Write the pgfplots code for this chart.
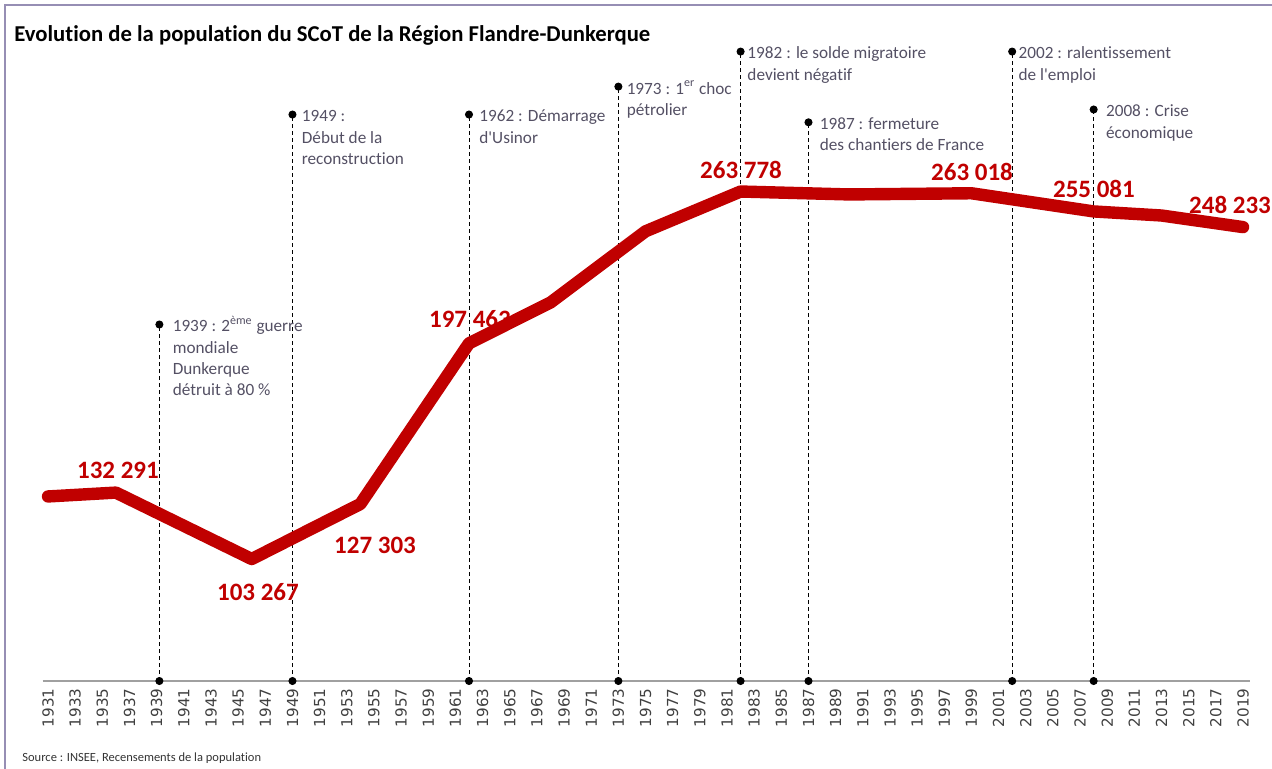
\documentclass[border=0pt]{standalone}
\usepackage{fontspec}
\setmainfont{Carlito}[Ligatures={NoCommon}]
\newfontfamily\tickfont{DejaVu Sans}
\usepackage{pgfplots}
\pgfplotsset{compat=1.18}
\definecolor{cred}{HTML}{C00000}
\definecolor{anntext}{RGB}{84,80,100}
\definecolor{framec}{RGB}{150,142,180}
\definecolor{axisgray}{RGB}{160,160,160}
\definecolor{ticktext}{RGB}{64,64,64}
\newcommand{\annf}{\fontsize{8.6}{10.6}\selectfont}
\newcommand{\ap}{\textquotesingle}
\tikzset{ann/.style={anchor=base west, inner sep=0pt, font=\annf, text=anntext},
  dlab/.style={anchor=center, inner sep=0pt, font=\bfseries\fontsize{12.5}{14}\selectfont, text=cred}}
\pgfplotsset{evline/.style={black, line width=0.5pt, dash pattern=on 2pt off 1.5pt, mark=*, mark size=1.75pt, mark options={solid, fill=black}}}
\begin{document}
\begin{tikzpicture}
\begin{scope}[x=0.5pt,y=-0.5pt]
\useasboundingbox (0,0) rectangle (1272,769);
\draw[framec, line width=0.75pt] (5,769) -- (5,5) -- (1272,5);
\node[anchor=west, inner sep=0pt, font=\bfseries\fontsize{11.35}{14}\selectfont] at (14,35) {Evolution de la population du SCoT de la Région Flandre-Dunkerque};
\node[anchor=west, inner sep=0pt, font=\fontsize{6.25}{7}\selectfont, text=black!80] at (22,758) {Source : INSEE, Recensements de la population};
\end{scope}
\begin{axis}[
  at={(21.3pt,-340.5pt)}, anchor=south west,
  width=603.6pt, height=332pt, scale only axis,
  xmin=1930.6, xmax=2019.5, ymin=50000, ymax=340000,
  clip=false,
  axis x line*=bottom, hide y axis,
  x axis line style={axisgray, line width=0.75pt},
  major tick length=0pt,
  xtick={1931,1933,...,2019},
  xticklabel style={rotate=90, anchor=east, inner sep=0pt, font=\tickfont\fontsize{7.6}{9}\selectfont, text=ticktext},
  xticklabel shift=3.5pt,
  /pgf/number format/1000 sep={},
  /pgf/number format/assume math mode=true,
]
\addplot[evline] coordinates {(1939.2,50000) (1939.2,205700)};
\addplot[evline] coordinates {(1949,50000) (1949,297400)};
\addplot[evline] coordinates {(1962,50000) (1962,297400)};
\addplot[evline] coordinates {(1973,50000) (1973,309600)};
\addplot[evline] coordinates {(1982,50000) (1982,324900)};
\addplot[evline] coordinates {(1987,50000) (1987,294000)};
\addplot[evline] coordinates {(2002,50000) (2002,324900)};
\addplot[evline] coordinates {(2008,50000) (2008,299600)};

\addplot[cred, line width=6.2pt, line cap=round, line join=round] coordinates {
(1931,130600) (1936,132291) (1946,103267) (1954,127303) (1962,197463) (1968,215300)
(1975,246400) (1982,263778) (1990,262500) (1999,263018) (2008,255081) (2013,253300) (2019,248233)};

\node[ann, xshift=6.5pt, yshift=-3.7pt] at (axis cs:1939.2,205700) {\begin{tabular}[t]{@{}l@{}}1939 : 2\textsuperscript{ème} guerre\\mondiale\\Dunkerque\\détruit à 80 \%\end{tabular}};
\node[ann, xshift=4.5pt, yshift=-3.7pt] at (axis cs:1949,297400) {\begin{tabular}[t]{@{}l@{}}1949 :\\Début de la\\reconstruction\end{tabular}};
\node[ann, xshift=5pt, yshift=-3.7pt] at (axis cs:1962,297400) {\begin{tabular}[t]{@{}l@{}}1962 : Démarrage\\d\ap Usinor\end{tabular}};
\node[ann, xshift=4pt, yshift=-3.7pt] at (axis cs:1973,309600) {\begin{tabular}[t]{@{}l@{}}1973 : 1\textsuperscript{er} choc\\pétrolier\end{tabular}};
\node[ann, xshift=3.25pt, yshift=-3.7pt] at (axis cs:1982,324900) {\begin{tabular}[t]{@{}l@{}}1982 : le solde migratoire\\devient négatif\end{tabular}};
\node[ann, xshift=5.5pt, yshift=-3.7pt] at (axis cs:1987,294000) {\begin{tabular}[t]{@{}l@{}}1987 : fermeture\\des chantiers de France\end{tabular}};
\node[ann, xshift=3pt, yshift=-3.7pt] at (axis cs:2002,324900) {\begin{tabular}[t]{@{}l@{}}2002 : ralentissement\\de l\ap emploi\end{tabular}};
\node[ann, xshift=6pt, yshift=-3.7pt] at (axis cs:2008,299600) {\begin{tabular}[t]{@{}l@{}}2008 : Crise\\économique\end{tabular}};

\node[dlab] at (axis cs:1936.15,141900) {132 291};
\node[dlab] at (axis cs:1946.46,88700) {103 267};
\node[dlab] at (axis cs:1955.08,109200) {127 303};
\node[dlab] at (axis cs:1962.07,207900) {197 463};
\node[dlab] at (axis cs:1982.03,273000) {263 778};
\node[dlab] at (axis cs:1999.04,272500) {263 018};
\node[dlab] at (axis cs:2008.02,265100) {255 081};
\node[dlab] at (axis cs:2018.04,257700) {248 233};
\end{axis}
\end{tikzpicture}
\end{document}
